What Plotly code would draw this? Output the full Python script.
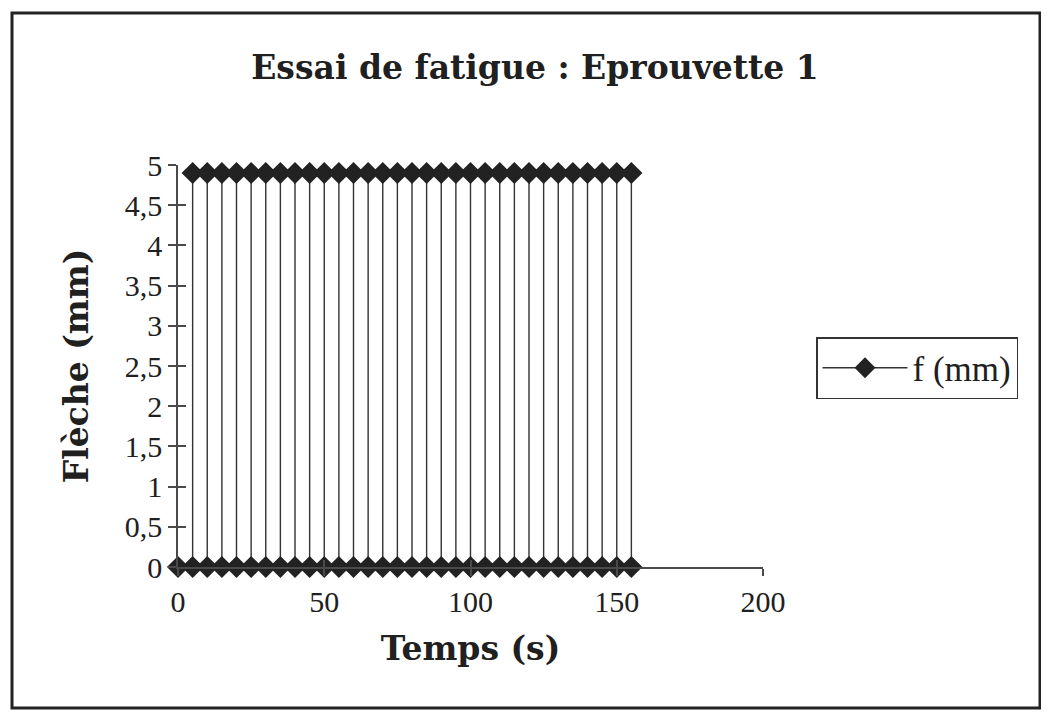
import plotly.graph_objects as go

# Data (square-wave deflection vs time)
temps = [0,
         5, 5, 10, 10, 15, 15, 20, 20, 25, 25, 30, 30, 35, 35, 40, 40,
         45, 45, 50, 50, 55, 55, 60, 60, 65, 65, 70, 70, 75, 75, 80, 80,
         85, 85, 90, 90, 95, 95, 100, 100, 105, 105, 110, 110, 115, 115,
         120, 120, 125, 125, 130, 130, 135, 135, 140, 140, 145, 145,
         150, 150, 155, 155]
fleche = [0,
          0, 4.9, 4.9, 0, 0, 4.9, 4.9, 0, 0, 4.9, 4.9, 0, 0, 4.9, 4.9, 0,
          0, 4.9, 4.9, 0, 0, 4.9, 4.9, 0, 0, 4.9, 4.9, 0, 0, 4.9, 4.9, 0,
          0, 4.9, 4.9, 0, 0, 4.9, 4.9, 0, 0, 4.9, 4.9, 0, 0, 4.9,
          4.9, 0, 0, 4.9, 4.9, 0, 0, 4.9, 4.9, 0, 0, 4.9,
          4.9, 0, 0, 4.9]

x_ticks = [0, 50, 100, 150, 200]
y_ticks = [0, 0.5, 1, 1.5, 2, 2.5, 3, 3.5, 4, 4.5, 5]

# page body has an 8px margin: figure occupies window pixels 8..1049
OFF = 8
W, H = 1049 - OFF, 721 - OFF
# plot area in window pixels: x 178..763, y 165..567
ML = 178 - OFF
MT = 165 - OFF
MR = W - (763 - OFF)
MB = H - (567 - OFF)
PW, PH = W - ML - MR, H - MT - MB


def px_x(p):
    return (p - OFF - ML) / PW


def px_y(p):
    return (H - MB - (p - OFF)) / PH


SERIF = "Liberation Serif, Times New Roman, serif"
WIDE = "DejaVu Serif, serif"
INK = "#202020"
AX = "#4a4a4a"

fig = go.Figure()
fig.add_trace(go.Scatter(
    x=temps, y=fleche, mode="lines+markers", name="f (mm)",
    line=dict(color="#333333", width=1.4),
    marker=dict(symbol="diamond", size=17, color="#222222"),
    cliponaxis=False,
))
# helper trace so the overlay axes (inner half of the crossing ticks) are drawn
fig.add_trace(go.Scatter(x=[None], y=[None], xaxis="x2", yaxis="y2",
                         showlegend=False, hoverinfo="skip"))

fig.update_layout(
    width=W, height=H,
    margin=dict(l=ML, r=MR, t=MT, b=MB),
    paper_bgcolor="white", plot_bgcolor="white",
    separators=", ",
    font=dict(family=SERIF, color=INK, size=30),
    title=dict(text="<b>Essai de fatigue : Eprouvette 1</b>",
               x=(535 - OFF) / W, xanchor="center",
               y=1 - (67 - OFF) / H, yanchor="middle",
               font=dict(size=33, family=WIDE, color=INK)),
    xaxis=dict(range=[0, 200], tickvals=x_ticks, showgrid=False, zeroline=False,
               showline=True, linecolor=AX, linewidth=1.5,
               ticks="outside", ticklen=7, tickcolor=AX, tickwidth=1.5,
               tickfont=dict(size=30, family=SERIF, color=INK),
               title=dict(text="<b>Temps (s)</b>", standoff=20,
                          font=dict(size=33, family=WIDE, color=INK))),
    yaxis=dict(range=[0, 5], tickvals=y_ticks, showgrid=False, zeroline=False,
               showline=True, linecolor=AX, linewidth=1.5,
               ticks="outside", ticklen=8, tickcolor=AX, tickwidth=1.5,
               tickfont=dict(size=30, family=SERIF, color=INK),
               title=dict(text="<b>Flèche (mm)</b>", standoff=26,
                          font=dict(size=33, family=WIDE, color=INK))),
    xaxis2=dict(overlaying="x", anchor="y2", range=[0, 200], tickvals=x_ticks,
                showgrid=False, zeroline=False, showticklabels=False,
                ticks="inside", ticklen=7, tickcolor=AX, tickwidth=1.5,
                side="bottom"),
    yaxis2=dict(overlaying="y", anchor="x2", range=[0, 5], tickvals=y_ticks,
                showgrid=False, zeroline=False, showticklabels=False,
                ticks="inside", ticklen=8, tickcolor=AX, tickwidth=1.5,
                side="left"),
    showlegend=True,
    legend=dict(x=px_x(816), y=px_y(368), xanchor="left", yanchor="middle",
                bordercolor="#333", borderwidth=1.5, bgcolor="white",
                font=dict(size=35, family=SERIF, color=INK), itemwidth=85),
    shapes=[dict(type="rect", xref="paper", yref="paper",
                 x0=px_x(12), x1=px_x(1040), y0=px_y(708), y1=px_y(13),
                 line=dict(color="#222", width=3), layer="below")],
)

fig.write_html("out.html")
